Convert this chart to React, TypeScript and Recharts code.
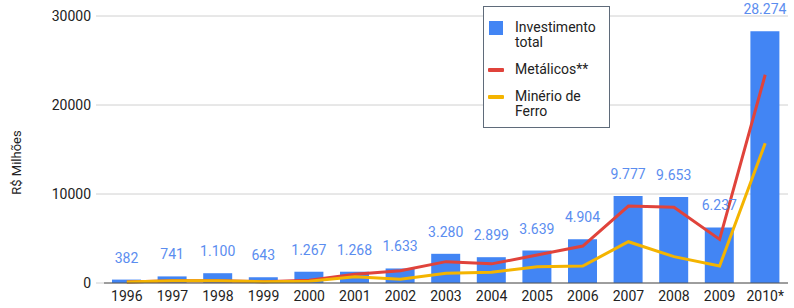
import React from 'react';
import { ComposedChart, Bar, Line, XAxis, YAxis, CartesianGrid, LabelList, Legend } from 'recharts';

const years = ['1996', '1997', '1998', '1999', '2000', '2001', '2002', '2003', '2004', '2005', '2006', '2007', '2008', '2009', '2010*'];
const investimentoTotal = [382, 741, 1100, 643, 1267, 1268, 1633, 3280, 2899, 3639, 4904, 9777, 9653, 6237, 28274];
const metalicos = [100, 250, 250, 150, 300, 980, 1380, 2400, 2150, 3150, 4150, 8650, 8500, 4900, 23400];
const minerioFerro = [100, 250, 250, 150, 200, 710, 430, 1100, 1200, 1830, 1910, 4640, 2960, 1910, 15700];
const yTicks = [0, 10000, 20000, 30000];

const data = years.map((y, i) => ({
  year: y,
  total: investimentoTotal[i],
  metal: metalicos[i],
  ferro: minerioFerro[i],
}));

const FONT = 'Roboto, "Noto Sans", sans-serif';

const fmt = (v: any) => String(v).replace(/\B(?=(\d{3})+(?!\d))/g, '.');

const LegendBox = (props: any) => {
  const payload = props.payload || [];
  return (
    <div
      style={{
        boxSizing: 'border-box',
        width: 127,
        height: 122,
        border: '1px solid #5f6b7a',
        background: '#fff',
        padding: '13px 4px 0 4px',
        fontFamily: FONT,
        fontSize: 14,
        lineHeight: '15px',
        color: '#222',
      }}
    >
      {payload.map((e: any, i: number) => (
        <div key={i} style={{ display: 'flex', alignItems: 'flex-start', marginBottom: 12 }}>
          <div style={{ width: 16, height: 15, display: 'flex', alignItems: 'center', justifyContent: 'center', flexShrink: 0 }}>
            {e.type === 'square' ? (
              <div style={{ width: 14, height: 14, background: e.color }} />
            ) : (
              <div style={{ width: 16, height: 4, background: e.color, borderRadius: 1 }} />
            )}
          </div>
          <div style={{ marginLeft: 11, width: 90 }}>{e.value}</div>
        </div>
      ))}
    </div>
  );
};

const YTitle = (props: any) => {
  const vb = props.viewBox || {};
  return (
    <text
      x={vb.x + 16}
      y={vb.y + vb.height / 2 + 13}
      transform={`rotate(-90, ${vb.x + 16}, ${vb.y + vb.height / 2 + 13})`}
      textAnchor="middle"
      dominantBaseline="central"
      fontFamily={FONT}
      fontSize={13}
      fill="#222"
    >
      R$ Milhões
    </text>
  );
};

export default function App() {
  return (
    <div style={{ position: 'absolute', left: 0, top: 0, background: '#fff' }}>
      <ComposedChart
        width={794}
        height={308}
        data={data}
        margin={{ top: 16, right: 6, bottom: 0, left: 0 }}
      >
        <CartesianGrid vertical={false} stroke="#d0d0d0" />
        <XAxis
          dataKey="year"
          height={25}
          axisLine={{ stroke: '#555' }}
          tickLine={false}
          tick={{ fontFamily: FONT, fontSize: 14, fill: '#222' }}
          interval={0}
        />
        <YAxis
          width={104}
          domain={[0, 30000]}
          ticks={yTicks}
          axisLine={false}
          tickLine={{ stroke: '#d0d0d0' }}
          tickSize={8}
          tickMargin={5}
          tick={{ fontFamily: FONT, fontSize: 14, fill: '#222' }}
          label={<YTitle />}
        />
        <Bar dataKey="total" name="Investimento total" fill="#4285f4" barSize={29} legendType="square" isAnimationActive={false}>
          <LabelList dataKey="total" position="top" offset={17} formatter={fmt} fill="#5b8def" fontFamily={FONT} fontSize={14} />
        </Bar>
        <Line dataKey="metal" name="Metálicos**" type="linear" stroke="#e0433b" strokeWidth={3} dot={false} legendType="line" isAnimationActive={false} />
        <Line dataKey="ferro" name="Minério de Ferro" type="linear" stroke="#f4b400" strokeWidth={3} dot={false} legendType="line" isAnimationActive={false} />
        <Legend
          layout="vertical"
          align="center"
          verticalAlign="middle"
          content={<LegendBox />}
          wrapperStyle={{ position: 'absolute', left: 483, top: 6, width: 127, height: 122 }}
        />
      </ComposedChart>
    </div>
  );
}
